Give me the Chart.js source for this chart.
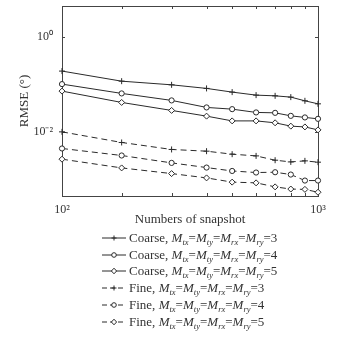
<!DOCTYPE html>
<html>
<head>
<meta charset="utf-8">
<script src="https://cdn.jsdelivr.net/npm/chart.js@4/dist/chart.umd.min.js"></script>
<style>
  html, body { margin: 0; padding: 0; background: #fff; }
  #wrap { position: relative; width: 356px; height: 340px; }
  #legend {
    position: absolute; left: 102px; top: 229.5px;
    font-family: 'Liberation Serif', serif; font-size: 13px; color: #333;
  }
  .row { height: 16.8px; display: flex; align-items: center; white-space: nowrap; }
  .row svg { width: 24px; height: 12px; margin-right: 3px; }
  .row sub { font-size: 8.5px; vertical-align: -3px; line-height: 0; }
</style>
</head>
<body>
<div id="wrap">
  <canvas id="rmseChart" width="356" height="340"></canvas>
  <div id="legend"></div>
</div>
<script>
// Snapshot counts and RMSE values (degrees)
const snapshots = [100, 171, 268, 367, 462, 573, 680, 783, 889, 1000];
const coarse3 = [0.189, 0.116, 0.0973, 0.0818, 0.0684, 0.0591, 0.0571, 0.0537, 0.0449, 0.0388];
const coarse4 = [0.1007, 0.0642, 0.0458, 0.0326, 0.0300, 0.0256, 0.0251, 0.0217, 0.0201, 0.0188];
const coarse5 = [0.0718, 0.0415, 0.0282, 0.0214, 0.0170, 0.0170, 0.0155, 0.0132, 0.0127, 0.0110];
const fine3 = [0.0100, 0.00599, 0.00427, 0.00393, 0.00340, 0.00313, 0.00254, 0.00234, 0.00246, 0.00231];
const fine4 = [0.00448, 0.00319, 0.00223, 0.00178, 0.00151, 0.00140, 0.00142, 0.00127, 0.00095, 0.00095];
const fine5 = [0.00267, 0.00175, 0.00133, 0.00108, 0.00088, 0.00085, 0.00070, 0.00063, 0.00062, 0.00054];

const seriesNames = ['Coarse', 'Coarse', 'Coarse', 'Fine', 'Fine', 'Fine'];
const seriesOrders = [3, 4, 5, 3, 4, 5];
const seriesValues = [coarse3, coarse4, coarse5, fine3, fine4, fine5];
const yTickValues = [0.01, 1];

const INK = '#2a2a2a';
const markerStyle = { 3: 'cross', 4: 'circle', 5: 'rectRot' };
const markerRadius = { 3: 3, 4: 2.6, 5: 3 };

const datasets = seriesValues.map((vals, i) => {
  const order = seriesOrders[i];
  const fine = seriesNames[i] === 'Fine';
  return {
    label: `${seriesNames[i]}, Mtx=Mty=Mrx=Mry=${order}`,
    data: snapshots.map((s, k) => ({ x: s, y: vals[k] })),
    borderColor: INK,
    borderWidth: 1,
    borderDash: fine ? [6, 4] : [],
    pointStyle: markerStyle[order],
    pointRadius: markerRadius[order],
    pointBorderColor: INK,
    pointBackgroundColor: '#fff',
    pointBorderWidth: 1,
    tension: 0,
    clip: false
  };
});

// box around the plot with inward ticks on all four sides
const frameTicks = {
  id: 'frameTicks',
  beforeDatasetsDraw(chart) {
    const { ctx, chartArea: a, scales } = chart;
    const len = 3;
    ctx.save();
    ctx.strokeStyle = '#444';
    ctx.lineWidth = 1;
    ctx.strokeRect(Math.round(a.left) + 0.5, Math.round(a.top) + 0.5,
      Math.round(a.right - a.left), Math.round(a.bottom - a.top));
    ctx.beginPath();
    scales.x.ticks.forEach(t => {
      const x = Math.round(scales.x.getPixelForValue(t.value)) + 0.5;
      ctx.moveTo(x, a.bottom); ctx.lineTo(x, a.bottom - len);
      ctx.moveTo(x, a.top); ctx.lineTo(x, a.top + len);
    });
    scales.y.ticks.forEach(t => {
      const y = Math.round(scales.y.getPixelForValue(t.value)) + 0.5;
      ctx.moveTo(a.left, y); ctx.lineTo(a.left + len, y);
      ctx.moveTo(a.right, y); ctx.lineTo(a.right - len, y);
    });
    ctx.stroke();
    ctx.restore();
  }
};

const serif = { family: "'Liberation Serif', serif", size: 12 };

const chart = new Chart(document.getElementById('rmseChart'), {
  type: 'line',
  data: { datasets },
  options: {
    responsive: false,
    animation: false,
    layout: { padding: { top: 6, right: 38, bottom: 104, left: 0 } },
    plugins: { legend: { display: false }, tooltip: { enabled: false } },
    scales: {
      x: {
        type: 'logarithmic',
        min: 100,
        max: 1000,
        grid: { display: false, drawTicks: false },
        border: { display: false },
        afterBuildTicks: s => { s.ticks = snapshots.map(v => ({ value: v })); },
        afterFit: s => { s.height = 40; s.paddingLeft = 0; s.paddingRight = 0; },
        ticks: {
          autoSkip: false, maxRotation: 0, padding: 7, color: '#333', font: serif,
          callback: v => v === 100 ? '10²' : (v === 1000 ? '10³' : '')
        },
        title: {
          display: true, text: 'Numbers of snapshot', color: '#333',
          font: { family: "'Liberation Serif', serif", size: 13 },
          padding: { top: 0, bottom: 9 }
        }
      },
      y: {
        type: 'logarithmic',
        min: 4.5e-4,
        max: 4.4,
        grid: { display: false, drawTicks: false },
        border: { display: false },
        afterBuildTicks: s => { s.ticks = yTickValues.map(v => ({ value: v })); },
        afterFit: s => { s.width = 62; s.paddingTop = 0; s.paddingBottom = 0; },
        ticks: {
          autoSkip: false, padding: 9, color: '#333', font: serif,
          callback: v => v === 1 ? '10⁰' : (v === 0.01 ? '10⁻²' : '')
        },
        title: {
          display: true, text: 'RMSE (°)', color: '#333',
          font: { family: "'Liberation Serif', serif", size: 13 },
          padding: { top: 17, bottom: 0 }
        }
      }
    }
  },
  plugins: [frameTicks]
});

// legend rows with sub-scripted labels, built from the datasets
function sampleSvg(ds) {
  const dash = ds.borderDash.length ? ` stroke-dasharray="5 3"` : '';
  let mark = '';
  if (ds.pointStyle === 'cross') mark = '<path d="M9.5 6H14.5M12 3.5V8.5"/>';
  else if (ds.pointStyle === 'circle') mark = '<circle cx="12" cy="6" r="2.3" fill="#fff"/>';
  else mark = '<path d="M12 3.2L14.6 6L12 8.8L9.4 6Z" fill="#fff"/>';
  return `<svg viewBox="0 0 24 12"><g stroke="${ds.borderColor}" stroke-width="1" fill="none">` +
    `<line x1="0" y1="6" x2="24" y2="6"${dash}/>${mark}</g></svg>`;
}

const legendEl = document.getElementById('legend');
chart.data.datasets.forEach((ds, i) => {
  const subs = ['tx', 'ty', 'rx', 'ry'].map(s => `<i>M</i><sub><i>${s}</i></sub>`).join('=');
  const row = document.createElement('div');
  row.className = 'row';
  row.innerHTML = sampleSvg(ds) + `<span>${seriesNames[i]}, ${subs}=${seriesOrders[i]}</span>`;
  legendEl.appendChild(row);
});
</script>
</body>
</html>
